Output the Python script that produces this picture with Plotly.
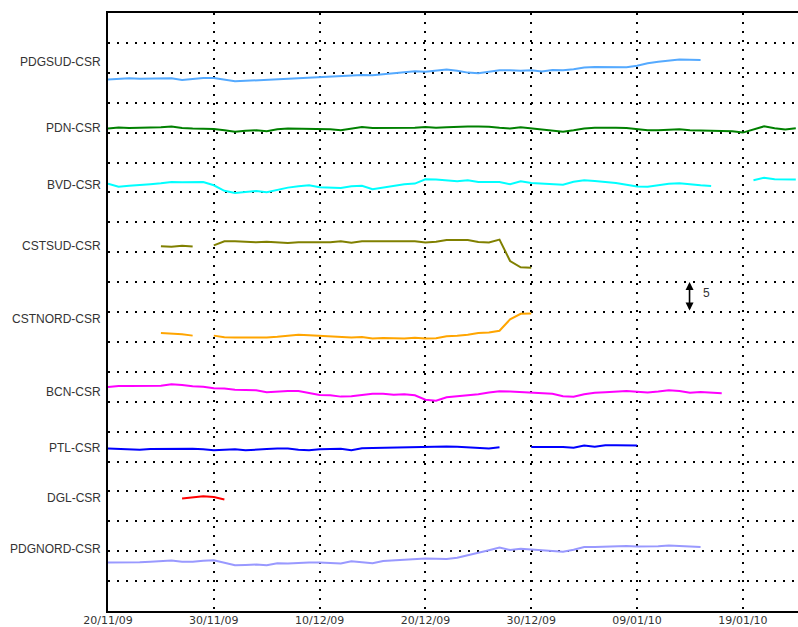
import pandas as pd
import plotly.graph_objects as go

# ---------------- data ----------------
START = "2009-11-20"

station_names = ["PDGSUD-CSR", "PDN-CSR", "BVD-CSR", "CSTSUD-CSR", "CSTNORD-CSR",
                 "BCN-CSR", "PTL-CSR", "DGL-CSR", "PDGNORD-CSR"]
label_levels = [91.75, 80.72, 71.19, 61.04, 48.78, 36.57, 27.21, 18.90, 10.32]
colors = ["#55aaff", "#008000", "#00ffff", "#808000", "#ffa500",
          "#ff00ff", "#0000ff", "#ff0000", "#9999ff"]
# first day index (days after START) of each series
start_day = [0, 0, 0, 5, 5, 0, 0, 7, 0]

pdgsud = [88.86, 89.00, 89.08, 89.00, 89.00, 89.00, 89.08, 88.80, 89.00, 89.13,
          89.13, 88.83, 88.58, 88.66, 88.75, 88.75, 88.83, 89.00, 89.03, 89.16,
          89.30, 89.36, 89.45, 89.53, 89.63, 89.58, 89.75, 89.83, 90.08, 90.28,
          90.17, 90.33, 90.54, 90.33, 90.03, 89.92, 90.17, 90.42, 90.42, 90.33,
          90.42, 90.20, 90.47, 90.42, 90.59, 90.87, 90.95, 90.92, 90.92, 90.92,
          91.17, 91.59, 91.84, 91.97, 92.21, 92.17, 92.14]

pdn = [80.67, 80.84, 80.77, 80.77, 80.84, 80.89, 81.00, 80.77, 80.67, 80.67,
       80.60, 80.38, 80.13, 80.30, 80.38, 80.22, 80.55, 80.67, 80.67, 80.60,
       80.60, 80.55, 80.38, 80.72, 80.94, 80.77, 80.77, 80.80, 80.80, 80.80,
       80.94, 80.80, 80.89, 81.00, 81.00, 81.00, 80.97, 80.80, 80.67, 80.89,
       80.67, 80.55, 80.30, 80.13, 80.38, 80.67, 80.80, 80.84, 80.80, 80.77,
       80.60, 80.38, 80.38, 80.47, 80.55, 80.38, 80.33, 80.27, 80.27, 80.22,
       80.00, 80.47, 81.05, 80.72, 80.50, 80.72]

bvd = [71.47, 70.94, 71.10, 71.19, 71.36, 71.52, 71.74, 71.69, 71.77, 71.74,
       71.19, 70.27, 69.90, 70.10, 70.23, 70.02, 70.43, 70.80, 71.02, 71.19,
       70.85, 70.74, 70.74, 71.02, 71.10, 70.52, 70.77, 71.02, 71.36, 71.47,
       72.19, 72.14, 71.94, 71.86, 72.02, 71.74, 71.74, 71.74, 71.36, 71.86,
       71.57, 71.52, 71.40, 71.30, 71.77, 72.02, 71.91, 71.77, 71.57, 71.27,
       70.97, 70.94, 71.19, 71.44, 71.52, 71.30, 71.19, 71.07, None, None,
       None, 72.02, 72.44, 72.19, 72.14, 72.14]

cstsud = [60.99, 60.90, 61.07, 60.94, None, 61.15, 61.82, 61.82, 61.74, 61.66,
          61.74, 61.66, 61.54, 61.66, 61.66, 61.66, 61.66, 61.82, 61.57, 61.82,
          61.82, 61.82, 61.82, 61.82, 61.82, 61.61, 61.74, 62.04, 62.04, 62.04,
          61.71, 61.61, 62.11, 58.53, 57.47, 57.42]

cstnord = [46.49, 46.44, 46.27, 46.05, None, 46.05, 45.77, 45.72, 45.72, 45.72,
           45.72, 45.85, 46.05, 46.19, 46.10, 45.99, 45.94, 45.85, 45.72, 45.82,
           45.55, 45.65, 45.60, 45.55, 45.69, 45.55, 45.60, 45.94, 46.02, 46.19,
           46.49, 46.56, 46.86, 48.78, 49.70, 49.73]

bcn = [37.46, 37.61, 37.63, 37.63, 37.58, 37.66, 37.91, 37.81, 37.58, 37.49,
       37.24, 37.19, 36.99, 36.99, 36.91, 36.57, 36.74, 36.79, 36.79, 36.40,
       36.12, 36.07, 35.85, 35.90, 36.15, 36.32, 36.32, 36.15, 36.24, 36.07,
       35.32, 35.15, 35.74, 35.90, 36.15, 36.24, 36.52, 36.74, 36.69, 36.62,
       36.49, 36.49, 36.32, 35.90, 35.82, 36.24, 36.49, 36.57, 36.62, 36.79,
       36.66, 36.52, 36.69, 36.91, 36.79, 36.49, 36.61, 36.49, 36.40]

ptl = [27.16, 27.12, 27.04, 26.96, 27.09, 27.12, 27.16, 27.21, 27.12, 27.04,
       26.87, 26.96, 27.04, 26.87, 27.04, 27.09, 27.16, 27.16, 26.96, 26.87,
       27.04, 27.04, 27.12, 26.87, 27.21, 27.26, 27.29, 27.37, 27.46, 27.49,
       27.49, 27.46, 27.49, 27.46, 27.32, 27.29, 27.16, 27.37, None, None,
       27.42, 27.42, 27.42, 27.42, 27.29, 27.66, 27.46, 27.71, 27.71, 27.66,
       27.66]

dgl = [18.80, 19.01, 19.18, 19.05, 18.63]

pdgnord = [8.09, 8.09, 8.09, 8.14, 8.23, 8.39, 8.43, 8.23, 8.23, 8.39,
           8.48, 8.06, 7.64, 7.69, 7.76, 7.64, 7.98, 7.93, 8.06, 8.11,
           8.09, 7.98, 7.93, 8.31, 8.14, 7.98, 8.36, 8.48, 8.56, 8.70,
           8.76, 8.73, 8.70, 8.90, 9.31, 9.65, 10.15, 10.60, 10.20, 10.40,
           10.23, 10.15, 10.03, 9.90, 10.23, 10.70, 10.70, 10.74, 10.82, 10.87,
           10.77, 10.74, 10.82, 10.94, 10.90, 10.82, 10.70]

series = [pdgsud, pdn, bvd, cstsud, cstnord, bcn, ptl, dgl, pdgnord]

tick_dates = ["2009-11-20", "2009-11-30", "2009-12-10", "2009-12-20", "2009-12-30",
              "2010-01-09", "2010-01-19"]
tick_labels = ["20/11/09", "30/11/09", "10/12/09", "20/12/09", "30/12/09",
               "09/01/10", "19/01/10"]
x_range = ["2009-11-20", "2010-01-24 05:00"]

scale_x = "2010-01-13 23:00"
scale_top, scale_bottom = 55, 50
scale_label = "5"
scale_label_x = "2010-01-15 14:00"
scale_label_y = 53.1

# ---------------- figure ----------------
LABEL_FONT = "Liberation Sans, Arial, sans-serif"
fig = go.Figure()
for name, vals, d0, col in zip(station_names, series, start_day, colors):
    xs = pd.date_range(pd.Timestamp(START) + pd.Timedelta(days=d0), periods=len(vals), freq="D")
    fig.add_trace(go.Scatter(x=xs, y=vals, mode="lines", name=name,
                             line=dict(color=col, width=2), connectgaps=False,
                             showlegend=False, hoverinfo="skip"))

annotations = []
for name, lvl in zip(station_names, label_levels):
    annotations.append(dict(x=0, xref="paper", y=lvl, yref="y", text=name,
                            xanchor="right", yanchor="middle", xshift=-5,
                            showarrow=False,
                            font=dict(family=LABEL_FONT, size=12, color="#333333")))

annotations.append(dict(x=scale_x, y=scale_top, xref="x", yref="y",
                        ax=scale_x, ay=scale_bottom, axref="x", ayref="y",
                        showarrow=True, arrowhead=2, arrowside="end+start",
                        arrowsize=1, arrowwidth=1.6, arrowcolor="black", text=""))
annotations.append(dict(x=scale_label_x, y=scale_label_y, xref="x", yref="y",
                        text=scale_label, showarrow=False,
                        font=dict(family=LABEL_FONT, size=12, color="#333333")))

fig.update_layout(
    width=798, height=627,
    margin=dict(l=108, r=0, t=13, b=16, autoexpand=False),
    paper_bgcolor="white", plot_bgcolor="white",
    annotations=annotations,
    showlegend=False,
)
fig.update_xaxes(
    type="date", range=x_range, automargin=False,
    tickmode="array", tickvals=tick_dates, ticktext=tick_labels,
    ticks="", ticklen=0, ticklabelstandoff=-2,
    showgrid=True, gridcolor="black", gridwidth=2, griddash="2px,7px",
    showline=True, linecolor="black", linewidth=2, mirror=True,
    tickfont=dict(family="DejaVu Sans, sans-serif", size=11, color="#333333"),
    zeroline=False, fixedrange=True,
)
fig.update_yaxes(
    range=[0, 100], dtick=5, tick0=0, showticklabels=False, ticks="", automargin=False,
    showgrid=True, gridcolor="black", gridwidth=2, griddash="2px,7px",
    showline=True, linecolor="black", linewidth=2, mirror=False,
    zeroline=False, fixedrange=True,
)

fig.write_html("out.html", config={"displayModeBar": False},
               post_script="document.body.style.margin='0';")
